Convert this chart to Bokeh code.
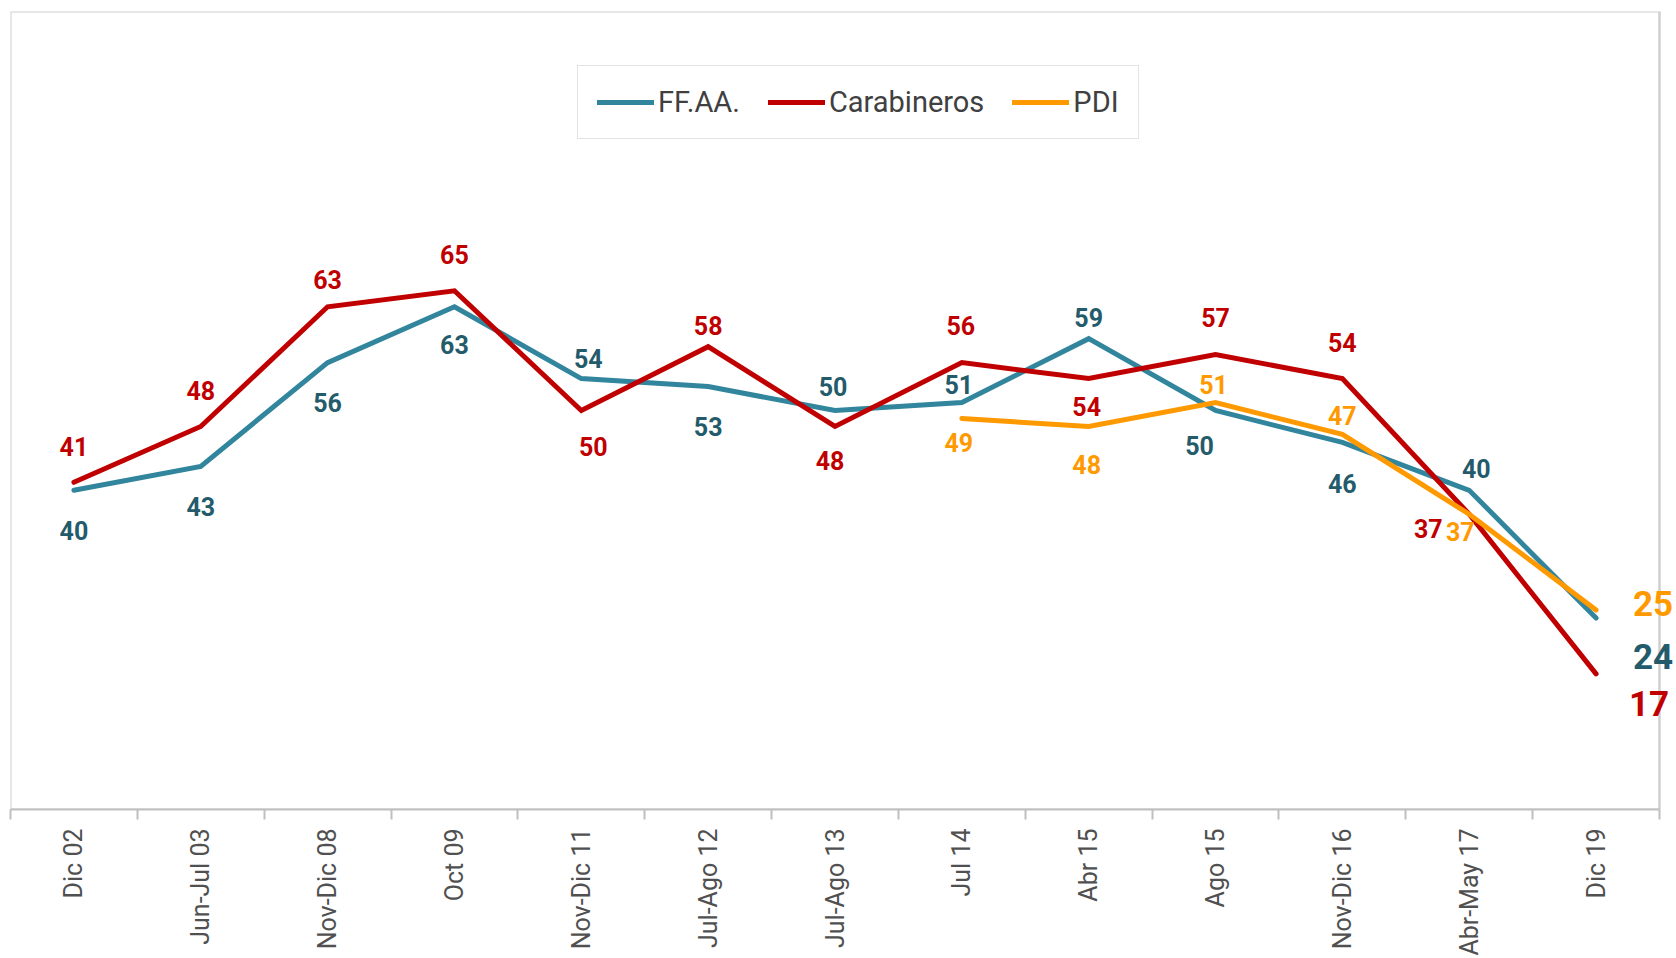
import math
from bokeh.plotting import figure
from bokeh.models import (ColumnDataSource, LabelSet, Label, FixedTicker, Legend, LegendItem,
                          Range1d, BoxAnnotation)
from bokeh.embed import file_html
from bokeh.resources import INLINE
from bokeh.core.properties import value

# ---------------- data ----------------
categories = ["Dic 02", "Jun-Jul 03", "Nov-Dic 08", "Oct 09", "Nov-Dic 11", "Jul-Ago 12",
              "Jul-Ago 13", "Jul 14", "Abr 15", "Ago 15", "Nov-Dic 16", "Abr-May 17", "Dic 19"]
ffaa = [40, 43, 56, 63, 54, 53, 50, 51, 59, 50, 46, 40, 24]
carabineros = [41, 48, 63, 65, 50, 58, 48, 56, 54, 57, 54, 37, 17]
pdi = [None, None, None, None, None, None, None, 49, 48, 51, 47, 37, 25]

# ---------------- label placement (style, px) ----------------
ffaa_dx = [0, 0, 0, 0, 7, 0, -2, -3, 0, -16, 0, 7, 57]
ffaa_dy = [-40, -40, -40, -38, 20, -40, 24, 18, 21, -35, -41, 22, -39]
car_dx = [0, 0, 0, 0, 12, 0, -5, -1, -2, 0, 0, -41, 53]
car_dy = [36, 36, 27, 36, -36, 21, -34, 37, -28, 37, 36, -14, -30]
pdi_dx = [-3, -2, -2, 0, -9, 57]
pdi_dy = [-24, -38, 18, 19, -17, 7]

C_FF_LINE, C_FF_TXT = "#31859C", "#245B6B"
C_CAR = "#C00000"
C_PDI = "#FF9900"
C_BOX = "#CFCFCF"
FONT = "Roboto"

W, H = 1676, 958
X0, X1 = -0.5, len(categories) - 0.5
Y0, Y1 = 0, 100
# the frame reaches the right edge of the canvas so that the end labels are not clipped;
# the visible chart box is drawn over [X0, X1] x [Y0, Y1]
p = figure(width=W, height=H, output_backend="svg", toolbar_location=None,
           x_range=Range1d(X0, X1 + 0.134), y_range=Range1d(Y0, Y1),
           min_border_left=10, min_border_top=11, min_border_right=0, min_border_bottom=10)
p.background_fill_color = "white"
p.border_fill_color = "white"
p.outline_line_color = None
p.xgrid.visible = False
p.ygrid.visible = False
p.yaxis.visible = False

p.add_layout(BoxAnnotation(left=X0, right=X1, bottom=Y0, top=Y1, fill_alpha=0,
                           line_color=C_BOX, line_alpha=1, line_width=2, level="glyph"))
# right edge of the chart box
p.segment(x0=[X1], y0=[Y0], x1=[X1], y1=[Y1], line_color=C_BOX, line_width=2)

xs = list(range(len(categories)))

def make_src(vals, dx, dy):
    pts = [(x, v) for x, v in zip(xs, vals) if v is not None]
    return ColumnDataSource(dict(
        x=[a for a, _ in pts], y=[b for _, b in pts],
        lbl=[str(b) for _, b in pts], dx=dx, dy=dy))

series = [
    ("FF.AA.", ffaa, ffaa_dx, ffaa_dy, C_FF_LINE, C_FF_TXT),
    ("Carabineros", carabineros, car_dx, car_dy, C_CAR, C_CAR),
    ("PDI", pdi, pdi_dx, pdi_dy, C_PDI, C_PDI),
]

items = []
for name, vals, dx, dy, lc, tc in series:
    src = make_src(vals, dx, dy)
    r = p.line("x", "y", source=src, line_color=lc, line_width=5,
               line_join="miter", line_cap="round")
    items.append(LegendItem(label=name, renderers=[r]))
    n = len(src.data["x"])
    inner = ColumnDataSource({k: v[:n - 1] for k, v in src.data.items()})
    p.add_layout(LabelSet(x="x", y="y", text="lbl", source=inner, x_offset="dx", y_offset="dy",
                          text_align="center", text_baseline="middle", text_color=tc,
                          text_font=value(FONT), text_font_style="bold", text_font_size="25px"))
    p.add_layout(Label(x=src.data["x"][-1], y=src.data["y"][-1], text=src.data["lbl"][-1],
                       x_offset=src.data["dx"][-1], y_offset=src.data["dy"][-1],
                       text_align="center", text_baseline="middle", text_color=tc,
                       text_font=FONT, text_font_style="bold", text_font_size="35px"))

# x axis: labels at category centres, ticks at category boundaries
ax = p.xaxis[0]
ax.bounds = (X0, X1)
ax.ticker = FixedTicker(ticks=xs, minor_ticks=[i - 0.5 for i in range(len(categories) + 1)])
ax.major_label_overrides = {i: c for i, c in enumerate(categories)}
ax.major_label_orientation = math.pi / 2
ax.major_label_text_font = FONT
ax.major_label_text_font_size = "25px"
ax.major_label_text_color = "#505050"
ax.major_label_standoff = 9
ax.major_tick_line_color = None
ax.major_tick_out = 0
ax.major_tick_in = 0
ax.minor_tick_line_color = "#BFBFBF"
ax.minor_tick_line_width = 2
ax.minor_tick_out = 10
ax.minor_tick_in = 0
ax.axis_line_color = "#BFBFBF"
ax.axis_line_width = 2

legend = Legend(items=items, orientation="horizontal", location=(567, 670))
legend.label_text_font = FONT
legend.label_text_font_size = "29px"
legend.label_text_color = "#404040"
legend.glyph_width = 57
legend.glyph_height = 30
legend.label_standoff = 4
legend.spacing = 28
legend.padding = 19
legend.margin = 0
legend.border_line_color = "#C8C8C8"
legend.border_line_width = 1.5
legend.background_fill_color = "white"
legend.background_fill_alpha = 1
p.add_layout(legend, "center")

open("out.html", "w").write(file_html(p, INLINE))
